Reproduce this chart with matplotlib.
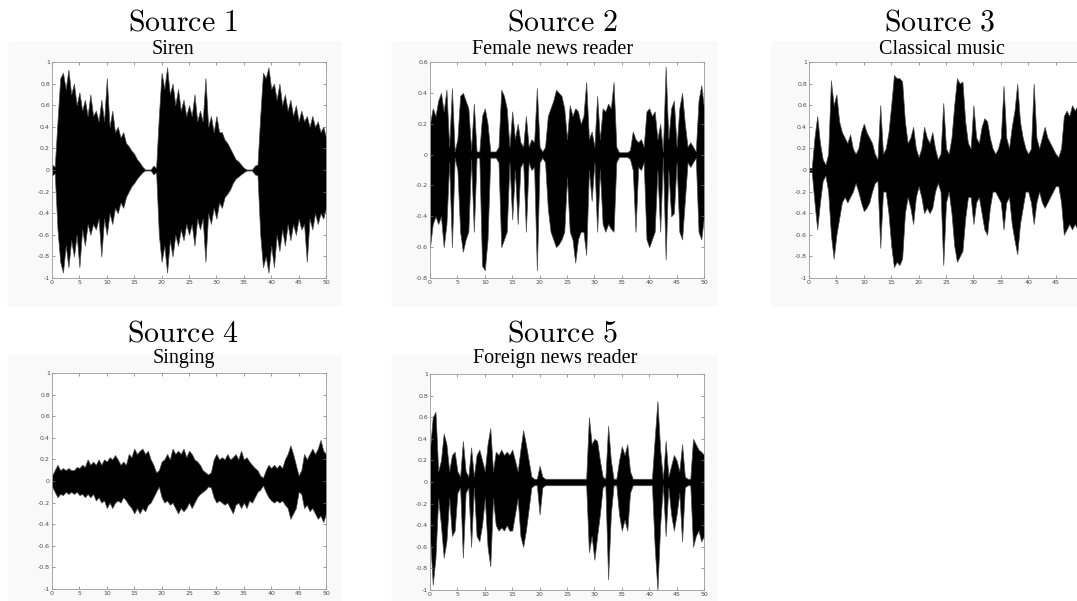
import numpy as np
import matplotlib
matplotlib.use("Agg")
import matplotlib.pyplot as plt
from matplotlib.patches import Rectangle
from matplotlib.ticker import FormatStrFormatter

plt.rcParams['mathtext.fontset'] = 'cm'
plt.rcParams['axes.unicode_minus'] = False

t = np.arange(0, 50.01, 0.5)

titles = ["Source 1", "Source 2", "Source 3", "Source 4", "Source 5"]
subtitles = ["Siren", "Female news reader", "Classical music", "Singing",
             "Foreign news reader"]

siren_up = [0.05, 0.03, 0.45, 0.85, 0.90, 0.75, 0.93, 0.70, 0.80, 0.60,
            0.72, 0.55, 0.65, 0.50, 0.70, 0.50, 0.55, 0.45, 0.65, 0.45,
            0.85, 0.40, 0.55, 0.35, 0.40, 0.30, 0.35, 0.25, 0.22, 0.18,
            0.15, 0.10, 0.07, 0.03, 0.005, 0.005, 0.005, 0.04, 0.02, 0.50,
            0.90, 0.75, 0.95, 0.70, 0.80, 0.60, 0.75, 0.55, 0.65, 0.50,
            0.60, 0.50, 0.70, 0.45, 0.55, 0.45, 0.85, 0.40, 0.50, 0.35,
            0.50, 0.35, 0.35, 0.28, 0.25, 0.20, 0.15, 0.10, 0.08, 0.05,
            0.02, 0.005, 0.005, 0.005, 0.04, 0.05, 0.50, 0.90, 0.85, 0.95,
            0.75, 0.80, 0.65, 0.80, 0.60, 0.70, 0.55, 0.65, 0.50, 0.60,
            0.45, 0.55, 0.45, 0.50, 0.40, 0.50, 0.40, 0.45, 0.35, 0.40,
            0.30]
siren_lo = [-0.05, -0.03, -0.55, -0.85, -0.95, -0.70, -0.90, -0.65, -0.80, -0.60,
            -0.90, -0.55, -0.70, -0.50, -0.60, -0.50, -0.55, -0.45, -0.80, -0.45,
            -0.60, -0.40, -0.50, -0.35, -0.40, -0.30, -0.35, -0.25, -0.20, -0.15,
            -0.12, -0.08, -0.05, -0.02, -0.005, -0.005, -0.005, -0.04, -0.02, -0.60,
            -0.85, -0.70, -0.95, -0.65, -0.80, -0.60, -0.70, -0.55, -0.65, -0.50,
            -0.60, -0.50, -0.70, -0.45, -0.55, -0.45, -0.85, -0.40, -0.50, -0.35,
            -0.45, -0.30, -0.35, -0.25, -0.22, -0.18, -0.12, -0.08, -0.06, -0.04,
            -0.02, -0.005, -0.005, -0.005, -0.04, -0.05, -0.60, -0.90, -0.80, -0.95,
            -0.70, -0.90, -0.60, -0.75, -0.55, -0.70, -0.50, -0.65, -0.50, -0.60,
            -0.45, -0.55, -0.50, -0.85, -0.45, -0.55, -0.40, -0.50, -0.40, -0.45,
            -0.35]

female_up = [0.20, 0.30, 0.25, 0.35, 0.40, 0.28, 0.42, 0.05, 0.43, 0.02,
             0.10, 0.38, 0.40, 0.35, 0.30, 0.03, 0.33, 0.02, 0.02, 0.25,
             0.30, 0.20, 0.02, 0.02, 0.02, 0.05, 0.42, 0.38, 0.30, 0.05,
             0.28, 0.10, 0.20, 0.08, 0.05, 0.25, 0.05, 0.10, 0.08, 0.43,
             0.05, 0.02, 0.05, 0.25, 0.30, 0.35, 0.42, 0.40, 0.38, 0.30,
             0.10, 0.32, 0.25, 0.30, 0.28, 0.20, 0.25, 0.47, 0.10, 0.15,
             0.05, 0.38, 0.10, 0.30, 0.28, 0.33, 0.30, 0.47, 0.05, 0.015,
             0.015, 0.015, 0.015, 0.03, 0.15, 0.10, 0.08, 0.10, 0.05, 0.28,
             0.30, 0.25, 0.28, 0.10, 0.20, 0.02, 0.57, 0.10, 0.30, 0.35,
             0.05, 0.30, 0.40, 0.20, 0.05, 0.08, 0.05, 0.02, 0.35, 0.45,
             0.30]
female_lo = [-0.60, -0.45, -0.40, -0.45, -0.40, -0.60, -0.45, -0.05, -0.60, -0.02,
             -0.10, -0.50, -0.63, -0.55, -0.50, -0.03, -0.50, -0.02, -0.02, -0.72,
             -0.75, -0.55, -0.02, -0.02, -0.02, -0.05, -0.60, -0.55, -0.50, -0.05,
             -0.42, -0.10, -0.45, -0.08, -0.05, -0.50, -0.05, -0.10, -0.08, -0.75,
             -0.05, -0.02, -0.05, -0.35, -0.50, -0.55, -0.60, -0.58, -0.55, -0.50,
             -0.15, -0.50, -0.55, -0.70, -0.55, -0.50, -0.50, -0.65, -0.10, -0.30,
             -0.05, -0.50, -0.10, -0.45, -0.50, -0.45, -0.48, -0.50, -0.05, -0.015,
             -0.015, -0.015, -0.015, -0.03, -0.10, -0.50, -0.08, -0.10, -0.05, -0.55,
             -0.60, -0.55, -0.50, -0.10, -0.50, -0.02, -0.68, -0.10, -0.40, -0.38,
             -0.05, -0.50, -0.55, -0.30, -0.05, -0.08, -0.05, -0.02, -0.50, -0.55,
             -0.40]

classical_up = [0.02, 0.02, 0.30, 0.50, 0.25, 0.10, 0.05, 0.15, 0.83, 0.60,
                0.70, 0.45, 0.35, 0.30, 0.25, 0.33, 0.20, 0.15, 0.20, 0.35,
                0.43, 0.35, 0.30, 0.25, 0.15, 0.10, 0.60, 0.15, 0.20, 0.35,
                0.60, 0.88, 0.85, 0.85, 0.82, 0.45, 0.25, 0.30, 0.40, 0.20,
                0.12, 0.20, 0.40, 0.30, 0.25, 0.35, 0.20, 0.10, 0.15, 0.62,
                0.20, 0.15, 0.30, 0.60, 0.85, 0.80, 0.82, 0.45, 0.25, 0.20,
                0.60, 0.30, 0.25, 0.40, 0.48, 0.45, 0.30, 0.20, 0.15, 0.20,
                0.30, 0.78, 0.30, 0.20, 0.40, 0.55, 0.80, 0.45, 0.30, 0.20,
                0.15, 0.20, 0.80, 0.30, 0.20, 0.30, 0.40, 0.30, 0.25, 0.20,
                0.15, 0.12, 0.20, 0.50, 0.55, 0.50, 0.60, 0.55, 0.60, 0.50,
                0.50]
classical_lo = [-0.02, -0.02, -0.30, -0.55, -0.30, -0.10, -0.05, -0.20, -0.60, -0.82,
                -0.60, -0.45, -0.30, -0.25, -0.30, -0.25, -0.20, -0.12, -0.20, -0.30,
                -0.38, -0.35, -0.30, -0.20, -0.12, -0.10, -0.72, -0.20, -0.20, -0.40,
                -0.70, -0.90, -0.85, -0.88, -0.82, -0.40, -0.25, -0.35, -0.50, -0.25,
                -0.15, -0.25, -0.40, -0.35, -0.40, -0.35, -0.20, -0.12, -0.20, -0.88,
                -0.30, -0.20, -0.40, -0.70, -0.85, -0.80, -0.75, -0.45, -0.25, -0.25,
                -0.50, -0.30, -0.25, -0.40, -0.55, -0.60, -0.35, -0.20, -0.20, -0.25,
                -0.30, -0.55, -0.30, -0.25, -0.50, -0.65, -0.78, -0.50, -0.35, -0.20,
                -0.20, -0.30, -0.50, -0.30, -0.20, -0.30, -0.35, -0.30, -0.25, -0.20,
                -0.15, -0.15, -0.30, -0.60, -0.55, -0.50, -0.55, -0.50, -0.55, -0.50,
                -0.50]

singing_up = [0.05, 0.10, 0.15, 0.10, 0.12, 0.10, 0.12, 0.10, 0.10, 0.13,
              0.12, 0.15, 0.13, 0.20, 0.15, 0.18, 0.15, 0.20, 0.15, 0.20,
              0.18, 0.22, 0.20, 0.24, 0.20, 0.15, 0.18, 0.15, 0.25, 0.22,
              0.30, 0.25, 0.28, 0.30, 0.25, 0.28, 0.20, 0.15, 0.08, 0.10,
              0.18, 0.20, 0.25, 0.20, 0.30, 0.25, 0.28, 0.25, 0.30, 0.22,
              0.28, 0.25, 0.20, 0.18, 0.15, 0.10, 0.08, 0.06, 0.08, 0.20,
              0.25, 0.20, 0.22, 0.20, 0.25, 0.20, 0.22, 0.25, 0.20, 0.28,
              0.20, 0.22, 0.18, 0.15, 0.12, 0.10, 0.05, 0.03, 0.10, 0.15,
              0.12, 0.15, 0.12, 0.15, 0.12, 0.20, 0.25, 0.33, 0.25, 0.15,
              0.05, 0.10, 0.25, 0.20, 0.25, 0.30, 0.25, 0.30, 0.38, 0.28,
              0.25]
singing_lo = [-0.05, -0.10, -0.15, -0.12, -0.13, -0.10, -0.12, -0.10, -0.12, -0.10,
              -0.13, -0.12, -0.15, -0.12, -0.15, -0.12, -0.18, -0.15, -0.20, -0.18,
              -0.25, -0.20, -0.25, -0.20, -0.18, -0.20, -0.15, -0.18, -0.22, -0.25,
              -0.30, -0.25, -0.30, -0.25, -0.28, -0.22, -0.20, -0.15, -0.10, -0.05,
              -0.15, -0.20, -0.18, -0.22, -0.20, -0.25, -0.30, -0.25, -0.28, -0.25,
              -0.20, -0.25, -0.20, -0.15, -0.12, -0.10, -0.08, -0.05, -0.06, -0.15,
              -0.20, -0.18, -0.20, -0.22, -0.20, -0.25, -0.30, -0.22, -0.20, -0.25,
              -0.20, -0.25, -0.18, -0.20, -0.15, -0.10, -0.08, -0.04, -0.10, -0.15,
              -0.18, -0.20, -0.18, -0.20, -0.18, -0.22, -0.25, -0.35, -0.30, -0.25,
              -0.10, -0.12, -0.25, -0.22, -0.28, -0.25, -0.30, -0.35, -0.32, -0.38,
              -0.30]

foreign_up = [0.30, 0.60, 0.65, 0.10, 0.20, 0.45, 0.35, 0.10, 0.25, 0.28,
              0.10, 0.05, 0.38, 0.10, 0.05, 0.32, 0.05, 0.25, 0.30, 0.20,
              0.10, 0.35, 0.50, 0.10, 0.28, 0.25, 0.30, 0.25, 0.28, 0.25,
              0.30, 0.20, 0.10, 0.30, 0.48, 0.35, 0.20, 0.05, 0.03, 0.03,
              0.15, 0.05, 0.03, 0.03, 0.03, 0.03, 0.03, 0.03, 0.03, 0.03,
              0.03, 0.03, 0.03, 0.03, 0.03, 0.03, 0.03, 0.03, 0.60, 0.35,
              0.40, 0.38, 0.20, 0.05, 0.03, 0.52, 0.20, 0.03, 0.03, 0.20,
              0.33, 0.25, 0.35, 0.10, 0.03, 0.03, 0.03, 0.03, 0.03, 0.03,
              0.03, 0.03, 0.40, 0.75, 0.30, 0.03, 0.38, 0.05, 0.15, 0.25,
              0.20, 0.10, 0.35, 0.05, 0.03, 0.03, 0.40, 0.35, 0.30, 0.28,
              0.25]
foreign_lo = [-0.50, -0.95, -0.70, -0.15, -0.40, -0.70, -0.55, -0.15, -0.50, -0.45,
              -0.10, -0.05, -0.70, -0.10, -0.05, -0.60, -0.05, -0.50, -0.55, -0.40,
              -0.15, -0.60, -0.78, -0.15, -0.40, -0.45, -0.42, -0.45, -0.40, -0.45,
              -0.45, -0.30, -0.15, -0.50, -0.60, -0.45, -0.25, -0.05, -0.03, -0.03,
              -0.30, -0.05, -0.03, -0.03, -0.03, -0.03, -0.03, -0.03, -0.03, -0.03,
              -0.03, -0.03, -0.03, -0.03, -0.03, -0.03, -0.03, -0.03, -0.65, -0.50,
              -0.72, -0.50, -0.30, -0.05, -0.03, -0.90, -0.30, -0.03, -0.03, -0.30,
              -0.45, -0.35, -0.45, -0.10, -0.03, -0.03, -0.03, -0.03, -0.03, -0.03,
              -0.03, -0.03, -0.60, -1.00, -0.40, -0.03, -0.50, -0.05, -0.30, -0.45,
              -0.30, -0.10, -0.55, -0.05, -0.03, -0.03, -0.60, -0.50, -0.45, -0.55,
              -0.50]

uppers = [siren_up, female_up, classical_up, singing_up, foreign_up]
lowers = [siren_lo, female_lo, classical_lo, singing_lo, foreign_lo]
ylims = [(-1, 1), (-0.8, 0.6), (-1, 1), (-1, 1), (-1, 1)]

W, H = 1077, 601
fig = plt.figure(figsize=(W / 100, H / 100), dpi=100)

# pixel layout of the five panels
lefts = [52, 430, 809, 52, 430]
tops = [62, 62, 62, 373, 374]
tx = [183, 562, 939, 183, 562]
sx = [173, 553, 942, 184, 555]
ty = [22, 22, 22, 333, 333]
sy = [49, 49, 49, 359, 359]
aw, ah = 274, 216

# faint grey panel backgrounds (pasted screenshots)
for (x0, y0, x1, y1) in [(8, 42, 340, 305), (392, 42, 716, 305), (772, 42, 1077, 305),
                         (8, 355, 340, 601), (392, 355, 716, 601)]:
    fig.patches.append(Rectangle((x0 / W, 1 - y1 / H), (x1 - x0) / W, (y1 - y0) / H,
                                 transform=fig.transFigure, color='#f9f9f9', zorder=-5))

for i in range(5):
    ax = fig.add_axes([lefts[i] / W, 1 - (tops[i] + ah) / H, aw / W, ah / H])
    ax.fill_between(t, lowers[i], uppers[i], color='black', edgecolor='0.3',
                    linewidth=0.5)
    ax.set_xlim(0, 50)
    ax.set_ylim(*ylims[i])
    # the third panel runs past the right edge of the picture
    ax.set_xticks(np.arange(0, 46 if i == 2 else 51, 5))
    lo, hi = ylims[i]
    ax.set_yticks(np.round(np.arange(lo, hi + 0.01, 0.2), 1) + 0.0)
    ax.yaxis.set_major_formatter(FormatStrFormatter('%g'))
    ax.tick_params(direction='in', length=2, width=0.5, colors='0.45',
                   labelsize=4.5, labelcolor='0.3', top=True, right=True, pad=1.5)
    for s in ax.spines.values():
        s.set_color('0.6')
        s.set_linewidth(0.6)
    ax.set_facecolor('white')

    fig.text(tx[i] / W, 1 - ty[i] / H, r'$\mathrm{' + titles[i].replace(' ', r'\ ') + '}$',
             ha='center', va='center', fontsize=21.5)
    fig.text(sx[i] / W, 1 - sy[i] / H, subtitles[i], ha='center', va='center',
             fontsize=14.5, family='Liberation Serif')

fig.savefig('out.png', dpi=100)
